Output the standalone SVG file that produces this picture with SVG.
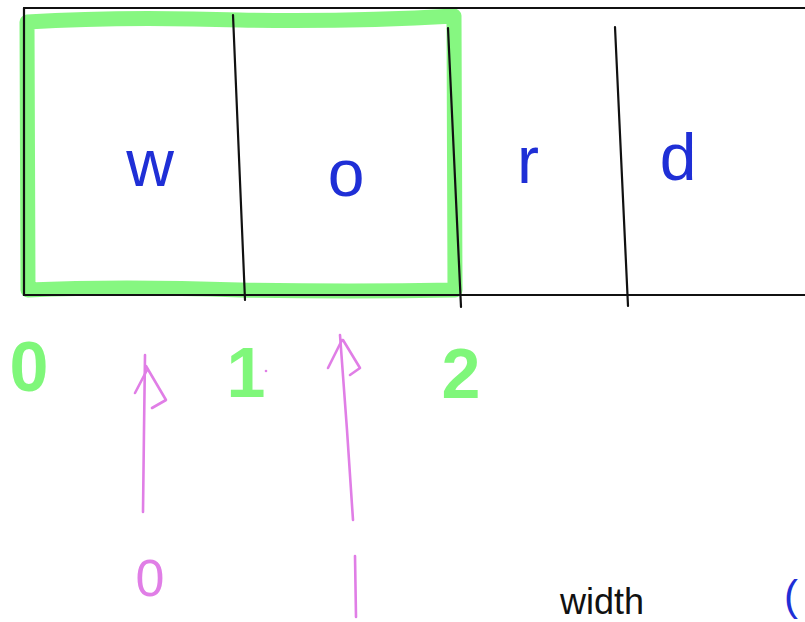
<svg xmlns="http://www.w3.org/2000/svg" width="805" height="622" viewBox="0 0 805 622">
<style>
.ink{stroke:#111;stroke-width:2.2;fill:none;stroke-linecap:round}
.hl{stroke:#7ff77a;stroke-width:15;fill:none;stroke-linejoin:round;stroke-linecap:round;opacity:0.95}
.letter{font-family:"Liberation Sans",Arial,sans-serif;fill:#1f2fd6;font-size:66px}
.dig{font-family:"Liberation Sans",Arial,sans-serif;font-weight:bold;fill:#7ff77a;font-size:70px}
.pk{stroke:#e07ee6;stroke-width:2.6;fill:none;stroke-linecap:round;stroke-linejoin:round}
.pkt{font-family:"Liberation Sans",Arial,sans-serif;fill:#e07ee6;font-size:52px}
</style>
<rect width="805" height="622" fill="#ffffff"/>
<g id="highlight">
<path class="hl" d="M28 290 L27 22 Q120 16 240 20 Q350 22 454 16 L455 290 Q350 292 240 290 Q120 286 28 290 Z"/>
</g>
<g id="cells">
<path class="ink" d="M24 8 L805 8"/>
<path class="ink" d="M24 8 L24 295 L805 295"/>
<path class="ink" d="M233 15 L245 300"/>
<path class="ink" d="M448 28 L461 307"/>
<path class="ink" d="M615 27 L628 306"/>
</g>
<g id="letters">
<text class="letter" x="150" y="186" text-anchor="middle">w</text>
<text class="letter" x="346" y="196" text-anchor="middle">o</text>
<text class="letter" x="528" y="183" text-anchor="middle">r</text>
<text class="letter" x="678" y="180" text-anchor="middle">d</text>
</g>
<g id="indices">
<text class="dig" x="29" y="391" text-anchor="middle">0</text>
<text class="dig" x="246" y="397" text-anchor="middle">1</text>
<circle cx="266" cy="371" r="1.3" fill="#e07ee6"/>
<text class="dig" x="461" y="398" text-anchor="middle">2</text>
</g>
<g id="arrows">
<path class="pk" d="M145 355 L144 430 L143 512"/>
<path class="pk" d="M147 370 L135 393 M146 366 L166 400 L152 408"/>
<path class="pk" d="M340 335 L347 430 L353 520"/>
<path class="pk" d="M342 340 L328 368 M343 340 L360 368 L350 375"/>
</g>
<g id="pointers">
<text class="pkt" x="150" y="596" text-anchor="middle">0</text>
<path class="pk" d="M355 556 L356 617"/>
</g>
<g id="partial">
<text x="560" y="614" font-family="Liberation Sans,Arial,sans-serif" font-size="36" fill="#111">width</text>
<text x="784" y="610" font-family="Liberation Sans,Arial,sans-serif" font-size="42" fill="#1f2fd6">(</text>
</g>
</svg>
